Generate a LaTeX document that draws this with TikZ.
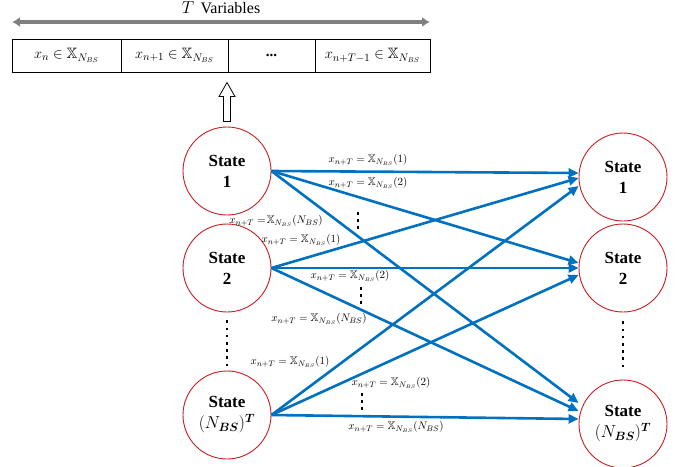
\documentclass[tikz,border=0pt]{standalone}
\usepackage{amsfonts, amssymb, amsmath}
\usepackage{fontspec}
\setmainfont{Liberation Serif}
\usepackage{tikz}
\usetikzlibrary{arrows.meta}
\usetikzlibrary{positioning}
\usetikzlibrary{calc}
\definecolor{flowblue}{RGB}{0,112,192}
\definecolor{statered}{RGB}{200,30,35}
\tikzset{st/.style={circle, draw=statered, line width=0.9pt, minimum size=88pt, inner sep=0pt, align=center, font=\fontsize{17}{21}\selectfont\bfseries}}
\tikzset{var/.style={rectangle, draw, line width=0.8pt, minimum height=33pt, inner sep=0pt, outer sep=0pt, font=\fontsize{15}{15}\selectfont}}
\tikzset{flow/.style={draw=flowblue, line width=2.6pt, -{Triangle[length=10pt,width=9pt]}}}
\tikzset{l/.style={font=\fontsize{11}{11}\selectfont, inner sep=0pt}}
\tikzset{dots/.style={line width=2.6pt, dash pattern=on 2.6pt off 4.6pt}}

\begin{document}
\begin{tikzpicture}[x=1pt, y=-1pt]
        \useasboundingbox (0,0) rectangle (685,466);
        \node [var, minimum width=109pt] (V1) at (66.5,55.5) {$x_n \in \mathbb{X}_{N_{BS}}$};
        \node [var, minimum width=107pt, right=0pt of V1] (V2) {$x_{n+1} \in \mathbb{X}_{N_{BS}}$};
        \node [var, minimum width=87pt, right=0pt of V2] (V3) {\textbf{\raisebox{-3pt}{...}}};
        \node [var, minimum width=115pt, right=0pt of V3] (V4) {$x_{n+T-1} \in \mathbb{X}_{N_{BS}}$};
        \draw [gray, line width=3.5pt, {Latex[length=8pt,width=10pt]}-{Latex[length=8pt,width=10pt]}]
          ([yshift=17pt]V1.north west) -- ([yshift=17pt]V4.north east)
          node [midway, above=3pt, font=\fontsize{16}{16}\selectfont, text=black] (TV) {$T$\, Variables};

        \node [st] (L1) at (227,171) {State\\1};
        \node [st] (L2) at (227,268) {State\\2};
        \node [st] (L3) at (227,415) {State\\$(N_{\boldsymbol{BS}})^{\boldsymbol{T}}$};
        \node [st] (R1) at (623,177) {State\\1};
        \node [st] (R2) at (623,268) {State\\2};
        \node [st] (R3) at (623,424) {State\\$(N_{\boldsymbol{BS}})^{\boldsymbol{T}}$};

        \coordinate (U) at ([yshift=5pt]L1.north);
        \draw [line width=0.8pt, fill=white] ($(U)+(-3.5,0)$) -- ++(0,-25) -- ++(-4.5,0)
          -- ($(U)+(0,-39)$) -- ($(U)+(8,-25)$) -- ++(-4.5,0) -- ++(0,25) -- cycle;

        \draw [dots] ([yshift=-8pt]L2.south) -- ([yshift=2pt]L3.north);
        \draw [dots] ([yshift=-9pt]R2.south) -- ([yshift=8pt]R3.north);

        \draw [flow] (L1.east) -- ([yshift=4pt]R1.west);
        \draw [flow] (L1.east) -- ([yshift=5pt]R2.west);
        \draw [flow] (L1.east) -- ([yshift=21pt]R3.west);
        \draw [flow] (L2.east) -- ([yshift=-1pt]R1.west);
        \draw [flow] (L2.east) -- (R2.west);
        \draw [flow] (L2.east) -- ([yshift=13pt]R3.west);
        \draw [flow] (L3.east) -- ([yshift=-9pt]R1.west);
        \draw [flow] (L3.east) -- ([yshift=-7pt]R2.west);
        \draw [flow] (L3.east) -- ([yshift=5pt]R3.west);

        \node [l] (E1) at (368,160) {$x_{n+T} = \mathbb{X}_{N_{BS}}(1)$};
        \node [l] (E2) at (368,183) {$x_{n+T} = \mathbb{X}_{N_{BS}}(2)$};
        \node [l] (E3) at (276,221) {$x_{n+T} =\!\mathbb{X}_{N_{BS}}(N_{BS})$};
        \node [l] (E4) at (301,240) {$x_{n+T} = \mathbb{X}_{N_{BS}}(1)$};
        \node [l] (E5) at (350,276) {$x_{n+T} = \mathbb{X}_{N_{BS}}(2)$};
        \node [l] (E6) at (319,319) {$x_{n+T} = \mathbb{X}_{N_{BS}}(N_{BS})$};
        \node [l] (E7) at (290,362) {$x_{n+T} = \mathbb{X}_{N_{BS}}(1)$};
        \node [l] (E8) at (391,383) {$x_{n+T} = \mathbb{X}_{N_{BS}}(2)$};
        \node [l] (E9) at (396,427) {$x_{n+T} = \mathbb{X}_{N_{BS}}(N_{BS})$};
        \draw [dots] (358,212) -- (358,229);
        \draw [dots] (361,287) -- (361,306);
        \draw [dots] (362,393) -- (362,412);
      \end{tikzpicture}
\end{document}
